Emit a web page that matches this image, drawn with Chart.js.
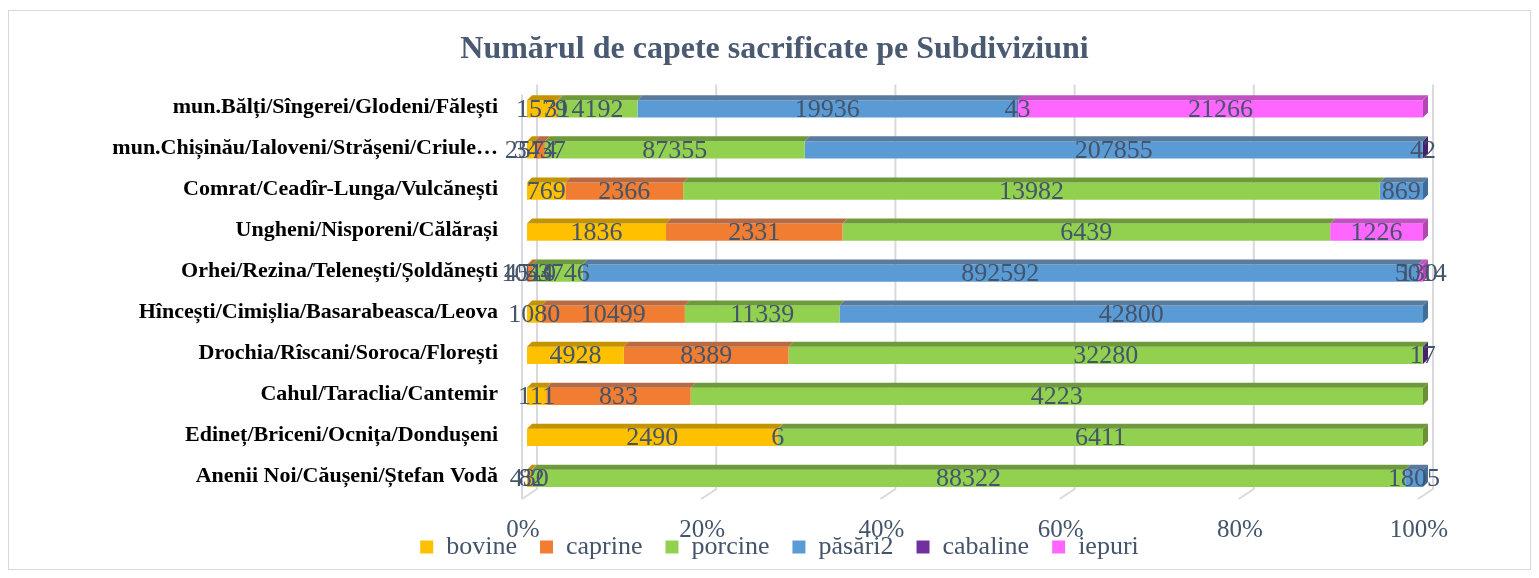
<!DOCTYPE html>
<html>
<head>
<meta charset="utf-8">
<script src="https://cdn.jsdelivr.net/npm/chart.js@4.4.0/dist/chart.umd.min.js"></script>
<style>
  html, body { margin: 0; padding: 0; background: #fff; }
  #wrap { position: relative; width: 1539px; height: 578px; }
  #frame { position: absolute; left: 8px; top: 10px; width: 1521px; height: 558px; border: 1px solid #d9d9d9; pointer-events: none; }
</style>
</head>
<body>
<div id="wrap">
  <canvas id="chart" width="1539" height="578"></canvas>
  <div id="frame"></div>
</div>
<script>
// Data (top row first)
const categories = [
    'mun.Bălți/Sîngerei/Glodeni/Fălești',
    'mun.Chișinău/Ialoveni/Strășeni/Criule…',
    'Comrat/Ceadîr-Lunga/Vulcănești',
    'Ungheni/Nisporeni/Călărași',
    'Orhei/Rezina/Telenești/Șoldănești',
    'Hîncești/Cimișlia/Basarabeasca/Leova',
    'Drochia/Rîscani/Soroca/Florești',
    'Cahul/Taraclia/Cantemir',
    'Edineț/Briceni/Ocnița/Dondușeni',
    'Anenii Noi/Căușeni/Ștefan Vodă'
];
const bovine   = [1579, 2574, 769, 1836, 1044, 1080, 4928, 111, 2490, 430];
const caprine  = [31, 3437, 2366, 2331, 4510, 10499, 8389, 833, 6, 82];
const porcine  = [4192, 87355, 13982, 6439, 53746, 11339, 32280, 4223, 6411, 88322];
const pasari   = [19936, 207855, 869, 0, 892592, 42800, 0, 0, 0, 1805];
const cabaline = [43, 42, 0, 0, 130, 0, 17, 0, 0, 0];
const iepuri   = [21266, 0, 0, 1226, 5014, 0, 0, 0, 0, 0];
const seriesNames = ['bovine', 'caprine', 'porcine', 'păsări2', 'cabaline', 'iepuri'];
const xTicks = [0, 20, 40, 60, 80, 100];

const series = [bovine, caprine, porcine, pasari, cabaline, iepuri];
const frontColors = ['#FFC000', '#F07D32', '#92D050', '#5B9BD5', '#7030A0', '#FF66FF'];
const topColors   = ['#C49400', '#B86A42', '#6F9A3C', '#5A7B9E', '#4E2270', '#C451C4'];
const sideColors  = ['#B08500', '#A85A30', '#6A9136', '#3F6E9A', '#46206A', '#B048B0'];
const labelColor = '#44546A';
const serif = "'Liberation Serif', 'Times New Roman', serif";

// 100% stacked -> percent of each row total
const totals = categories.map((_, j) => series.reduce((s, arr) => s + arr[j], 0));
const percent = arr => arr.map((v, j) => v / totals[j] * 100);

const DEPTH = 5;

// back wall grid lines with the 3D floor edge
const wallPlugin = {
    id: 'wall3d',
    beforeDatasetsDraw(chart) {
        const { ctx, chartArea: a, scales: { x } } = chart;
        ctx.save();
        ctx.strokeStyle = '#d9d9df';
        ctx.lineWidth = 2;
        xTicks.forEach(v => {
            const px = x.getPixelForValue(v);
            ctx.beginPath();
            ctx.moveTo(px + 10, a.top - 4);
            ctx.lineTo(px + 10, a.bottom - 10);
            ctx.lineTo(px - 5, a.bottom);
            ctx.stroke();
        });
        const x0 = x.getPixelForValue(0) - 5;
        ctx.beginPath();
        ctx.moveTo(x0, a.top + 6);
        ctx.lineTo(x0, a.bottom);
        ctx.stroke();
        ctx.restore();
    }
};

// top / side faces of the bars, then the value labels
const facesPlugin = {
    id: 'faces3d',
    afterDatasetsDraw(chart) {
        const ctx = chart.ctx;
        ctx.save();
        const lastOfRow = {};
        series.forEach((arr, i) => {
            chart.getDatasetMeta(i).data.forEach((bar, j) => {
                if (!arr[j]) return;
                const { x, y, base, height } = bar.getProps(['x', 'y', 'base', 'height'], true);
                const top = y - height / 2;
                ctx.fillStyle = topColors[i];
                ctx.beginPath();
                ctx.moveTo(base, top);
                ctx.lineTo(x, top);
                ctx.lineTo(x + DEPTH, top - DEPTH);
                ctx.lineTo(base + DEPTH, top - DEPTH);
                ctx.closePath();
                ctx.fill();
                lastOfRow[j] = { i, x, top, bottom: y + height / 2 };
            });
        });
        Object.values(lastOfRow).forEach(r => {
            ctx.fillStyle = sideColors[r.i];
            ctx.beginPath();
            ctx.moveTo(r.x, r.top);
            ctx.lineTo(r.x + DEPTH, r.top - DEPTH);
            ctx.lineTo(r.x + DEPTH, r.bottom - DEPTH);
            ctx.lineTo(r.x, r.bottom);
            ctx.closePath();
            ctx.fill();
        });

        ctx.font = '26px ' + serif;
        ctx.fillStyle = labelColor;
        ctx.textAlign = 'center';
        ctx.textBaseline = 'middle';
        series.forEach((arr, i) => {
            chart.getDatasetMeta(i).data.forEach((bar, j) => {
                if (!arr[j]) return;
                const { x, y, base } = bar.getProps(['x', 'y', 'base'], true);
                ctx.fillText(String(arr[j]), (x + base) / 2, y + 1);
            });
        });
        ctx.restore();
    }
};

// nudge title / legend to where the original has them, give x labels room
const placePlugin = {
    id: 'place',
    afterLayout(chart) {
        const { titleBlock, legend, scales: { x } } = chart;
        titleBlock.left += 63;
        titleBlock.right += 63;
        legend.left += 68;
        legend.right += 68;
        const h = legend.height;
        legend.top = x.top + 12;
        legend.bottom = legend.top + h;
        x.bottom = x.top + 50;
    }
};

const ctx = document.getElementById('chart').getContext('2d');
new Chart(ctx, {
    type: 'bar',
    data: {
        labels: categories,
        datasets: series.map((arr, i) => ({
            label: seriesNames[i],
            data: percent(arr),
            backgroundColor: frontColors[i],
            borderWidth: 0,
            barPercentage: 0.42,
            categoryPercentage: 1
        }))
    },
    options: {
        indexAxis: 'y',
        responsive: false,
        animation: false,
        layout: { padding: { left: 0, right: 116, top: 0, bottom: 3 } },
        scales: {
            x: {
                stacked: true,
                min: 0,
                max: 100,
                grid: { display: false, drawTicks: false },
                border: { display: false },
                ticks: {
                    stepSize: 20,
                    padding: 16,
                    labelOffset: -4,
                    color: labelColor,
                    font: { family: serif, size: 25 },
                    callback: v => v + '%'
                },
                afterFit: s => { s.height = 17; }
            },
            y: {
                stacked: true,
                grid: { display: false, drawTicks: false },
                border: { display: false },
                ticks: {
                    padding: 29,
                    labelOffset: -2,
                    color: '#000',
                    font: { family: serif, size: 22, weight: 'bold' }
                },
                afterFit: s => { s.width = 527; }
            }
        },
        plugins: {
            title: {
                display: true,
                text: 'Numărul de capete sacrificate pe Subdiviziuni',
                color: '#4A5A72',
                font: { family: serif, size: 32, weight: 'bold' },
                padding: { top: 31, bottom: 19 }
            },
            legend: {
                position: 'bottom',
                labels: {
                    boxWidth: 13,
                    boxHeight: 13,
                    padding: 23,
                    color: labelColor,
                    font: { family: serif, size: 26 }
                }
            },
            tooltip: { enabled: false }
        }
    },
    plugins: [wallPlugin, facesPlugin, placePlugin]
});
</script>
</body>
</html>
